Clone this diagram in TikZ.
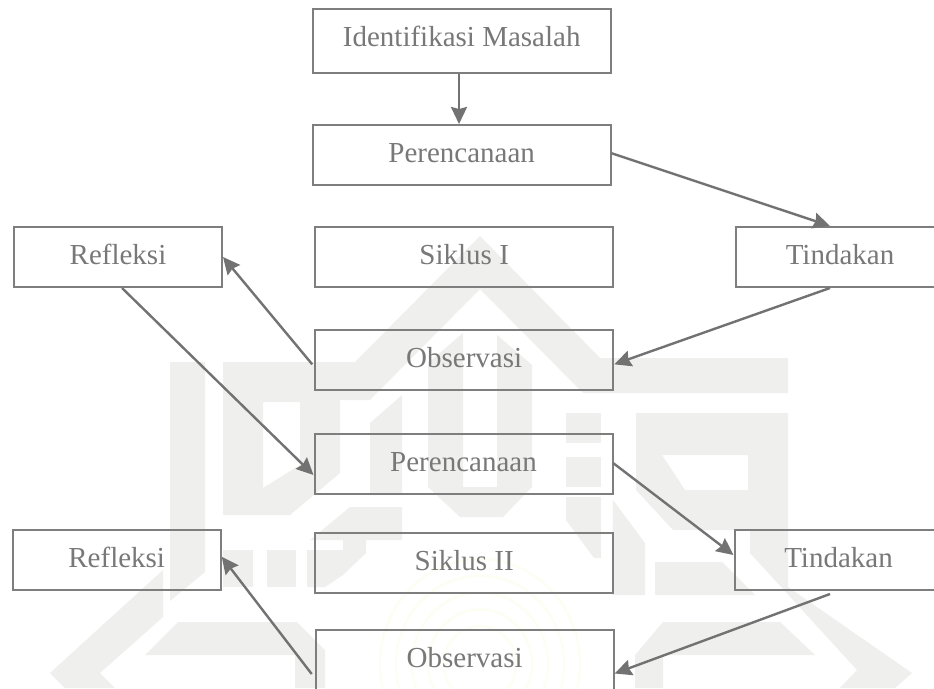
\documentclass[tikz,border=0pt]{standalone}
\usepackage{fontspec}
\setmainfont{Liberation Serif}
\usetikzlibrary{arrows.meta,calc}
\definecolor{wm}{HTML}{EFF0ED}
\definecolor{fp}{HTML}{FDFDF2}
\definecolor{boxline}{HTML}{7E7E7E}
\definecolor{arrowline}{HTML}{727272}
\definecolor{label}{HTML}{787878}
\tikzset{
  wmshape/.style={fill=wm,draw=none,even odd rule},
  fpline/.style={draw=fp,line width=2.2pt},
  stepbox/.style={draw=boxline,line width=2pt,inner sep=0pt,minimum width=298pt,minimum height=60pt,
    text=label,font=\fontsize{29}{32}\selectfont,text height=20pt,text depth=5pt},
  sidebox/.style={stepbox,minimum width=208pt},
  flow/.style={draw=arrowline,line width=2.4pt,-{Stealth[length=17pt,width=16pt,inset=2pt,fill=arrowline]}}
}
\begin{document}
\begin{tikzpicture}[x=1pt,y=-1pt]
\useasboundingbox (0,0) rectangle (934,688);
\fill[white] (0,0) rectangle (934,688);
% watermark
\fill[wmshape] (223,362)--(355,362)--(480,236)--(600,358)--(788,358)--(788,393)--(583,393)--(480,289)--(370,400)--(340,400)--(340,473)--(290,515)--(223,515)--cycle
  (263,402)--(300,402)--(300,465)--(263,488)--cycle;
\fill[wmshape] (170,362)--(205,362)--(205,572)--(170,601)--cycle;
\fill[wmshape] (370,423)--(402,395)--(402,495)--(370,495)--cycle;
\fill[wmshape] (428,363)--(463,333)--(463,487)--(497,487)--(497,335)--(532,365)--(532,487)--(503,517)--(460,517)--(428,487)--cycle;
\fill[wmshape] (566,413)--(601,413)--(601,443)--(566,443)--cycle;
\fill[wmshape] (566,457)--(601,457)--(601,487)--(566,487)--cycle;
\fill[wmshape] (566,497)--(601,497)--(601,558)--(594,558)--(566,520)--cycle;
\fill[wmshape] (613,500)--(645,543)--(645,595)--(612,595)--cycle;
\fill[wmshape] (636,413)--(788,413)--(788,587)--(912,673)--(895,688)--(840,688)--(857,670)--(750,553)--(750,530)--(673,530)--(636,490)--cycle
  (662,455)--(748,455)--(748,490)--(685,490)--cycle;
\fill[wmshape] (655,562)--(722,562)--(755,595)--(655,595)--cycle;
\fill[wmshape] (635,655)--(663,622)--(780,622)--(815,655)--(663,655)--(663,688)--(635,688)--cycle;
\fill[wmshape] (223,550)--(253,550)--(253,587)--(223,587)--cycle;
\fill[wmshape] (267,550)--(296,550)--(296,587)--(267,587)--cycle;
\fill[wmshape] (350,507)--(402,507)--(402,540)--(366,540)--(366,553)--(343,575)--(325,587)--(307,587)--(307,550)--(343,550)--(343,540)--(310,540)--cycle;
\fill[wmshape] (163,570)--(50,673)--(65,688)--(115,688)--(100,673)--(163,617)--cycle;
\fill[wmshape] (145,655)--(178,622)--(297,622)--(325,650)--(325,688)--(295,688)--(295,655)--cycle;
% faint seal
\foreach \r in {100,84,68,52,36}{
  \draw[fpline] (480,664) ellipse ({\r pt} and {1.05*\r pt});
}
% nodes
\node[stepbox,minimum height=64pt,text height=16pt] (ident) at (461.7,40.7) {Identifikasi Masalah};
\node[stepbox] (per1) at (461.7,155) {Perencanaan};
\node[sidebox] (ref1) at (118,257) {Refleksi};
\node[stepbox] (sik1) at (464.2,257) {Siklus I};
\node[sidebox] (tin1) at (840,257) {Tindakan};
\node[stepbox] (obs1) at (464.2,360) {Observasi};
\node[stepbox] (per2) at (463.5,464) {Perencanaan};
\node[sidebox] (ref2) at (116.7,560) {Refleksi};
\node[stepbox] (sik2) at (464.2,563) {Siklus II};
\node[sidebox] (tin2) at (838.5,560) {Tindakan};
\node[stepbox] (obs2) at (464.7,659.5) {Observasi};
% connectors
\draw[flow] ($(ident.south)+(-2.7,0)$) -- ($(per1.north)+(-2.7,0)$);
\draw[flow] ($(per1.east)+(0,-1.7)$) -- ($(tin1.north)+(-10,0)$);
\draw[flow] ($(tin1.south)+(-10,0)$) -- ($(obs1.east)+(0,4.3)$);
\draw[flow] ($(obs1.west)+(-2,4.3)$) -- ($(ref1.east)+(0,0)$);
\draw[flow] ($(ref1.south)+(4,0)$) -- ($(per2.west)+(0,11)$);
\draw[flow] ($(per2.east)+(0,-0.7)$) -- ($(tin2.west)+(0,-5)$);
\draw[flow] ($(tin2.south)+(-8.5,3)$) -- ($(obs2.east)+(0,14)$);
\draw[flow] ($(obs2.west)+(-3,14.5)$) -- ($(ref2.east)+(0,-3.3)$);
\end{tikzpicture}
\end{document}
